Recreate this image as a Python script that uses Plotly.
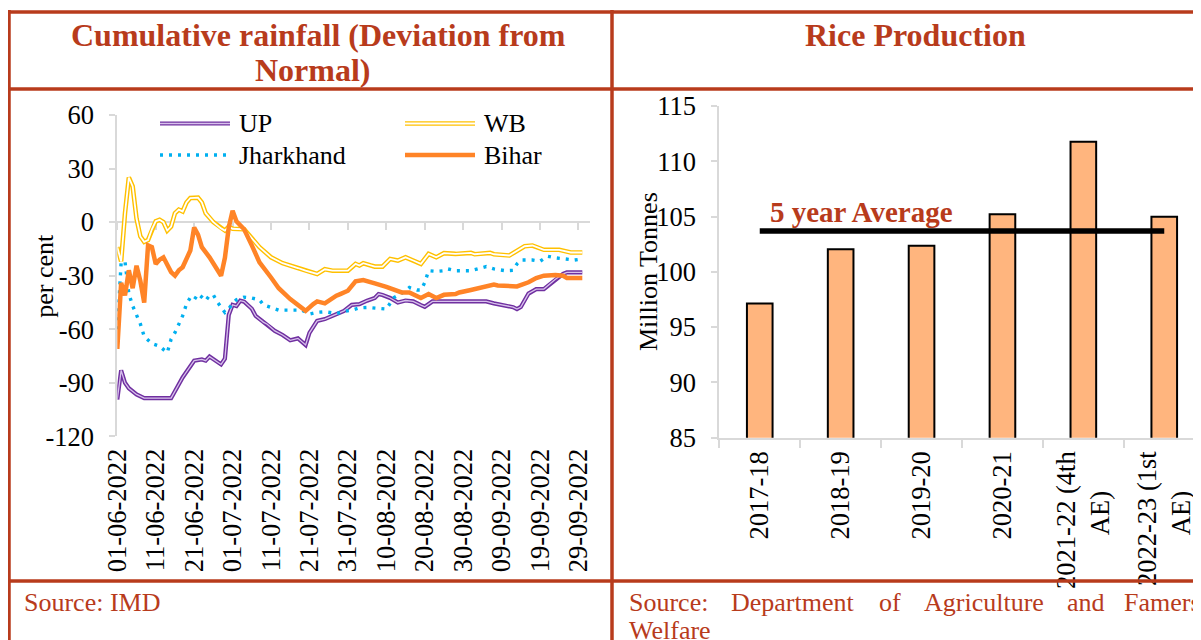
import datetime as dt
import plotly.graph_objects as go

# ---------------- DATA ----------------
season_start = dt.date(2022, 6, 1)

up_days = [0, 1, 2, 3, 5, 7, 14, 17, 20, 22, 23, 24, 27, 28, 29, 30, 31, 32, 33, 35, 36, 38, 39, 41, 43, 45, 47, 49, 50,
           51, 52, 54, 57, 59, 61, 63, 65, 67, 68, 69, 71, 73, 75, 77, 79, 80, 82, 96, 98, 101, 103, 104, 105, 107, 109,
           111, 114, 116, 117, 121]
up_vals = [-99.3, -83, -90, -93, -96.5, -98.6, -98.6, -87, -77.6, -76.9, -77.6, -75.3, -79.7, -76.5, -52, -46.3, -47,
           -44, -44.5, -48.5, -52.5, -56, -57.2, -60.9, -63.2, -66.2, -65.1, -68.8, -62, -59, -55.3, -54.3, -51.5, -49.7,
           -46.3, -45.9, -44, -42.5, -40.3, -40.8, -42.5, -45, -43.9, -44.4, -46.5, -47.4, -44.4, -44.4, -45.5, -46.8,
           -47.6, -48.7, -47.5, -40, -37.5, -37.5, -32, -29, -28.1, -28.1]

wb_days = [0, 1, 2, 3, 4, 5, 6, 7, 8, 9, 10, 11, 12, 13, 14, 15, 16, 17, 18, 19, 21, 22, 23, 25, 27, 28, 29, 30, 33, 35,
           37, 40, 43, 47, 49, 52, 54, 56, 60, 62, 63, 64, 66, 67, 69, 71, 73, 75, 77, 79, 81, 83, 85, 88, 92, 93, 97, 98,
           102, 104, 106, 108, 111, 115, 118, 121]
wb_vals = [-14, -22, 5, 25, 20, 2, -8, -11, -10, -4, 0.5, 1.3, 0, -4.7, -2.5, 5, 7, 6, 11, 13.5, 13.7, 11, 5, 0, -3.5,
           -4.7, -2.5, -3.7, -4, -9, -14, -19.7, -23, -25.7, -27.2, -29, -26.4, -27.2, -27.2, -23.4, -24.3, -23, -24.3,
           -24.9, -24.9, -20.6, -21.5, -19.7, -21.5, -23.4, -17.8, -19.7, -17.4, -17.8, -17.2, -18, -17.2, -18, -18.7,
           -15.9, -13.5, -13.1, -15.5, -15.5, -17, -17]

jh_days = [0, 1, 2, 3, 4, 5, 6, 7, 9, 11, 12, 13, 14, 15, 16, 17, 18, 19, 20, 21, 22, 23, 24, 25, 26, 27, 28, 29, 30,
           31, 32, 33, 35, 37, 38, 40, 42, 48, 49, 50, 52, 54, 57, 59, 61, 63, 65, 67, 70, 71, 72, 74, 75, 76, 78, 79, 80,
           81, 83, 85, 86, 88, 92, 94, 96, 98, 101, 103, 104, 105, 108, 110, 112, 114, 116, 119, 121]
jh_vals = [-60, -22.5, -22, -40, -46.9, -52.5, -57, -64, -68, -69.5, -71.2, -73.1, -65.6, -61.9, -57.2, -52.5, -45.9,
           -42.2, -43.5, -40.3, -42, -44, -41, -40.8, -44.6, -47.8, -50.6, -48.5, -45.5, -43.5, -42.5, -42, -42.5, -43.5,
           -46.3, -47.8, -49.3, -49.3, -50.6, -51.5, -50.5, -50.2, -51.2, -50, -49.3, -48, -47.8, -48.3, -48.7, -45.4,
           -42.2, -39.9, -38, -36.6, -38, -38, -33.9, -27.2, -27.6, -27.2, -26.2, -27.2, -27.2, -25.8, -24.9, -26.2,
           -27.2, -27, -23.4, -21.2, -21.2, -21.9, -19.1, -20, -20.6, -21.2, -20.6]

bh_days = [0, 1, 2, 3, 4, 5, 6, 7, 8, 9, 10, 11, 12, 13, 14, 15, 16, 17, 18, 19, 20, 21, 22, 24, 27, 28, 29, 30, 31, 32,
           33, 35, 37, 40, 42, 45, 49, 51, 52, 54, 55, 57, 58, 60, 62, 64, 67, 70, 74, 76, 79, 81, 83, 85, 88, 89, 92, 95,
           98, 99, 104, 107, 109, 111, 114, 116, 117, 121]
bh_vals = [-71, -34, -41, -27, -37, -24.4, -33, -45, -13, -14, -23.4, -21, -19.7, -24, -28, -30, -27, -25.3, -21, -15.9,
           -3, -7, -14, -19.7, -30, -20, -3, 6.4, 0.5, -1.5, -4, -13, -22.5, -31, -37, -43.1, -49.7, -45.9, -44.4, -45.5,
           -44, -41.2, -40.3, -38.4, -33.2, -32.4, -34.3, -36.2, -39.4, -39.4, -42.5, -40.3, -42.5, -40.7, -40.3, -39.4,
           -38, -36.2, -35, -35.5, -36, -33.7, -31.3, -30, -29.6, -30, -31.3, -31.3]

date_tick_days = [0, 10, 20, 30, 40, 50, 60, 70, 80, 90, 100, 110, 120]
rain_yticks = [60, 30, 0, -30, -60, -90, -120]

years = ["2017-18", "2018-19", "2019-20", "2020-21", "2021-22 (4th AE)", "2022-23 (1st AE)"]
NB = "\u00a0" * 6
year_labels = ["2017-18", "2018-19", "2019-20", "2020-21", "2021-22 (4th<br>AE)" + NB, "2022-23 (1st<br>AE)" + NB]
rice_prod = [97.14, 102.04, 102.36, 105.21, 111.76, 104.99]
five_year_avg = 103.7
rice_yticks = [85, 90, 95, 100, 105, 110, 115]

# ---------------- STYLE / LAYOUT HELPERS ----------------
# page body has an 8px margin, so the figure is drawn 8px in from the window's corner
OFF = 8
W, H = 1201 - OFF, 640 - OFF
def px(x): return (x - OFF) / W
def py(y): return 1 - (y - OFF) / H

RED = "#B83B1C"
GRID = "#D9D9D9"
FONT = "Liberation Serif"

def to_dates(days):
    return [season_start + dt.timedelta(days=d) for d in days]

fig = go.Figure()

def add_line(days, vals, color, width, dash=None, inner=None):
    fig.add_trace(go.Scatter(x=to_dates(days), y=vals, mode="lines",
                             line=dict(color=color, width=width, dash=dash),
                             xaxis="x", yaxis="y", showlegend=False, hoverinfo="skip"))
    if inner:
        fig.add_trace(go.Scatter(x=to_dates(days), y=vals, mode="lines",
                                 line=dict(color=inner[0], width=inner[1]),
                                 xaxis="x", yaxis="y", showlegend=False, hoverinfo="skip"))

UPC, WBC, JHC, BHC = "#7030A0", "#FFC000", "#00B0F0", "#FF8427"
add_line(up_days, up_vals, UPC, 4.2, inner=("#D8C2EC", 1.3))
add_line(wb_days, wb_vals, WBC, 4.6, inner=("#FFFFFF", 1.8))
add_line(jh_days, jh_vals, JHC, 3.4, dash="3px,6px")
add_line(bh_days, bh_vals, BHC, 4.5)

# dummy trace so that the zero-line axis is drawn
fig.add_trace(go.Scatter(x=[season_start], y=[None], mode="lines", xaxis="x3", yaxis="y",
                         showlegend=False, hoverinfo="skip"))

fig.add_trace(go.Bar(x=years, y=rice_prod, width=0.317,
                     marker=dict(color="#FFB57E", line=dict(color="black", width=2)),
                     xaxis="x2", yaxis="y2", showlegend=False, hoverinfo="skip"))
fig.add_trace(go.Scatter(x=years, y=[five_year_avg] * len(years), mode="lines",
                         line=dict(color="black", width=5.5), xaxis="x2", yaxis="y2",
                         showlegend=False, hoverinfo="skip"))

range_end = season_start + dt.timedelta(days=(590 - 117.3) / 3.837)
tickfont = dict(family=FONT, size=26.5, color="black")

fig.update_layout(
    width=W, height=H, margin=dict(l=0, r=0, t=0, b=0, autoexpand=False),
    paper_bgcolor="white", plot_bgcolor="white",
    xaxis=dict(domain=[px(117.3), px(590)], anchor="y", type="date", automargin=False,
               range=[season_start, range_end], showgrid=False, zeroline=False, showline=False,
               tickmode="array", tickvals=to_dates(date_tick_days),
               ticktext=[d.strftime("%d-%m-%Y") for d in to_dates(date_tick_days)],
               tickangle=-90, tickfont=tickfont, ticks="", ticklabelstandoff=6),
    xaxis3=dict(overlaying="x", anchor="free", position=py(221.7), type="date", automargin=False,
                range=[season_start, range_end], showgrid=False, zeroline=False,
                showline=True, linecolor=GRID, linewidth=2, layer="below traces",
                tickmode="array", tickvals=to_dates(date_tick_days), showticklabels=False,
                ticks="outside", ticklen=7, tickwidth=2, tickcolor=GRID),
    yaxis=dict(domain=[py(436.4), py(115)], anchor="x", range=[-120, 60], automargin=False,
               tickmode="array", tickvals=rain_yticks, ticktext=[str(v) for v in rain_yticks],
               showgrid=False, zeroline=False, showline=True, linecolor=GRID, linewidth=2,
               ticks="outside", ticklen=6, tickwidth=2, tickcolor=GRID, tickfont=tickfont,
               ticklabelstandoff=10),
    xaxis2=dict(domain=[px(719.3), 1.0], anchor="y2", type="category", automargin=False,
                range=[-0.5, -0.5 + (1201 - 719.3) / 80.9], showgrid=False, zeroline=False,
                showline=True, linecolor=GRID, linewidth=2, ticks="outside", ticklen=8, tickwidth=2,
                tickcolor=GRID, tickson="boundaries", tickmode="array", tickvals=years, ticktext=year_labels,
                tickangle=-90, tickfont=tickfont, ticklabelstandoff=1),
    yaxis2=dict(domain=[py(437.7), py(106)], anchor="x2", range=[85, 115], automargin=False,
                tickmode="array", tickvals=rice_yticks, ticktext=[str(v) for v in rice_yticks],
                showgrid=False, zeroline=False, showline=True, linecolor=GRID, linewidth=2,
                ticks="outside", ticklen=6, tickwidth=2, tickcolor=GRID, tickfont=tickfont,
                ticklabelstandoff=10),
)

border = dict(color=RED, width=3.5)
shapes = [
    dict(type="line", xref="paper", yref="paper", x0=px(8), x1=1.0, y0=py(12), y1=py(12), line=border),
    dict(type="line", xref="paper", yref="paper", x0=px(8), x1=1.0, y0=py(89), y1=py(89), line=border),
    dict(type="line", xref="paper", yref="paper", x0=px(8), x1=1.0, y0=py(581), y1=py(581), line=border),
    dict(type="line", xref="paper", yref="paper", x0=px(9), x1=px(9), y0=py(10), y1=0, line=border),
    dict(type="line", xref="paper", yref="paper", x0=px(612), x1=px(612), y0=py(10), y1=0, line=border),
]

def leg(x0, x1, y, color, width, dash=None):
    shapes.append(dict(type="line", xref="paper", yref="paper", x0=px(x0), x1=px(x1), y0=py(y), y1=py(y),
                       line=dict(color=color, width=width, dash=dash)))

leg(160, 230, 123.5, UPC, 4.2); leg(160, 230, 123.5, "#D8C2EC", 1.3)
leg(405, 475, 123.5, WBC, 4.6); leg(405, 475, 123.5, "#FFFFFF", 1.8)
leg(160, 227, 155, JHC, 3.4, "3px,6px")
leg(405, 475, 155, BHC, 4.5)
fig.update_layout(shapes=shapes)

ann = []
def text(x, y, s, size=26, color="black", bold=False, xanchor="left", angle=0):
    ann.append(dict(x=px(x), y=py(y), xref="paper", yref="paper", text=f"<b>{s}</b>" if bold else s,
                    showarrow=False, xanchor=xanchor, yanchor="middle", textangle=angle,
                    font=dict(family=FONT, size=size, color=color)))

text(237, 124, "UP"); text(482, 124, "WB")
text(237, 155, "Jharkhand"); text(482, 155, "Bihar")

text(318, 35, "Cumulative rainfall (Deviation from", 32, RED, True, "center")
text(313, 70, "Normal)", 32, RED, True, "center")
text(915, 35, "Rice Production", 32, RED, True, "center")

text(45, 275.7, "per cent", xanchor="center", angle=-90)
text(648, 272, "Million Tonnes", xanchor="center", angle=-90)

text(768, 212, "5 year Average", 29, RED, True)

text(22, 602, "Source: IMD", 26, RED)
for xw, w in [(627, "Source:"), (729, "Department"), (877, "of"), (922, "Agriculture"), (1065, "and"), (1122, "Famers")]:
    text(xw, 602, w, 26, RED)
text(627, 630, "Welfare", 26, RED)

fig.update_layout(annotations=ann)
fig.write_html("out.html")
